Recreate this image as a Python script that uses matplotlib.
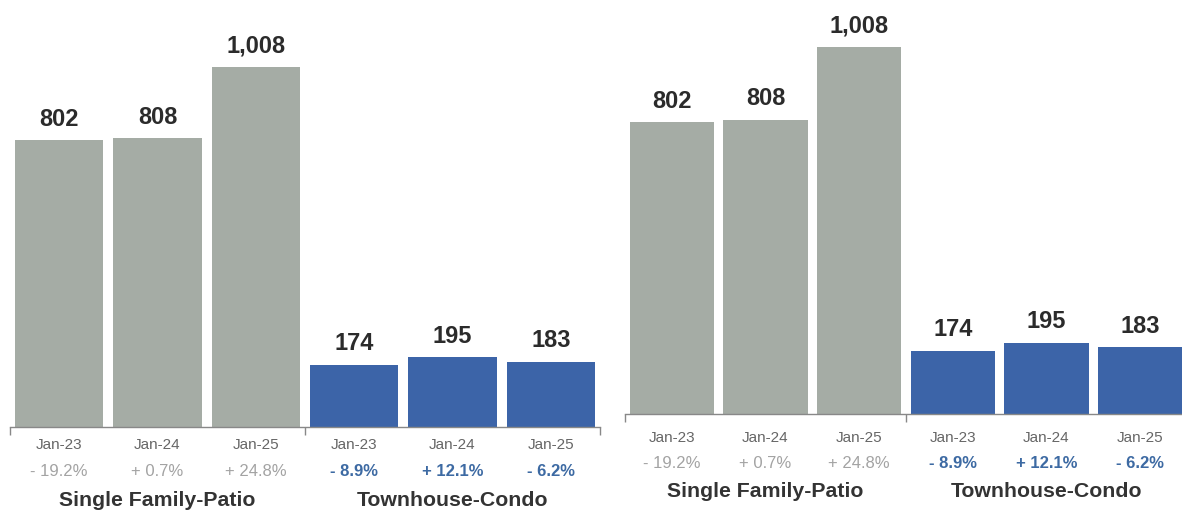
import numpy as np
import matplotlib as mpl
import matplotlib.pyplot as plt

# data
months = ['Jan-23', 'Jan-24', 'Jan-25']
single_family = [802, 808, 1008]
townhouse = [174, 195, 183]
sf_change = ['- 19.2%', '+ 0.7%', '+ 24.8%']
th_change = ['- 8.9%', '+ 12.1%', '- 6.2%']
groups = ['Single Family-Patio', 'Townhouse-Condo']

# configuration
mpl.rcParams['font.family'] = ['Liberation Sans', 'DejaVu Sans']

gray = '#a5aca5'
blue = '#3c64a8'
dark = '#2b2b2b'

fig = plt.figure(figsize=(11.82, 5.17), dpi=100)
ax1 = fig.add_axes([10 / 1182, 90 / 517, 590 / 1182, 393 / 517])
ax2 = fig.add_axes([625 / 1182, 103 / 517, 562 / 1182, 400 / 517])

values = single_family + townhouse
colors = [gray] * 3 + [blue] * 3
changes = sf_change + th_change
x = np.arange(len(values))

# (month pad, percent offset, group offset) for each panel
offsets = [(8, -32, -53), (12, -36, -56)]

for ax, (pad, pct_off, grp_off) in zip((ax1, ax2), offsets):
    ax.bar(x, values, width=0.9, color=colors)
    ax.set_xlim(-0.5, 5.5)
    ax.set_ylim(0, 1100)

    # value labels
    for xi, v in zip(x, values):
        ax.annotate(f'{v:,}', (xi, v), xytext=(0, 7), textcoords='offset points',
                    ha='center', va='bottom', fontsize=17, fontweight='bold', color=dark)

    # month labels
    ax.set_xticks(x)
    ax.set_xticklabels(months * 2, fontsize=11, color='#666666')
    ax.tick_params(axis='x', which='major', length=0, pad=pad)
    ax.set_xticks([-0.5, 2.5, 5.5], minor=True)
    ax.tick_params(axis='x', which='minor', length=6, width=1, color='#888888')

    ax.set_yticks([])
    for s in ['top', 'right', 'left']:
        ax.spines[s].set_visible(False)
    ax.spines['bottom'].set_color('#888888')
    ax.spines['bottom'].set_linewidth(1)

    # percent change row
    for i, c in enumerate(changes):
        sf = i < 3
        ax.annotate(c, (i, 0), xycoords=('data', 'axes fraction'),
                    xytext=(0, pct_off), textcoords='offset points',
                    ha='center', va='center', fontsize=12,
                    fontweight='normal' if sf else 'bold',
                    color='#a3a3a3' if sf else '#3d6aa3')

    # group names
    for gx, g in zip([1, 4], groups):
        ax.annotate(g, (gx, 0), xycoords=('data', 'axes fraction'),
                    xytext=(0, grp_off), textcoords='offset points',
                    ha='center', va='center', fontsize=15.3, fontweight='bold',
                    color='#333333')

plt.savefig('out.png', dpi=100)
